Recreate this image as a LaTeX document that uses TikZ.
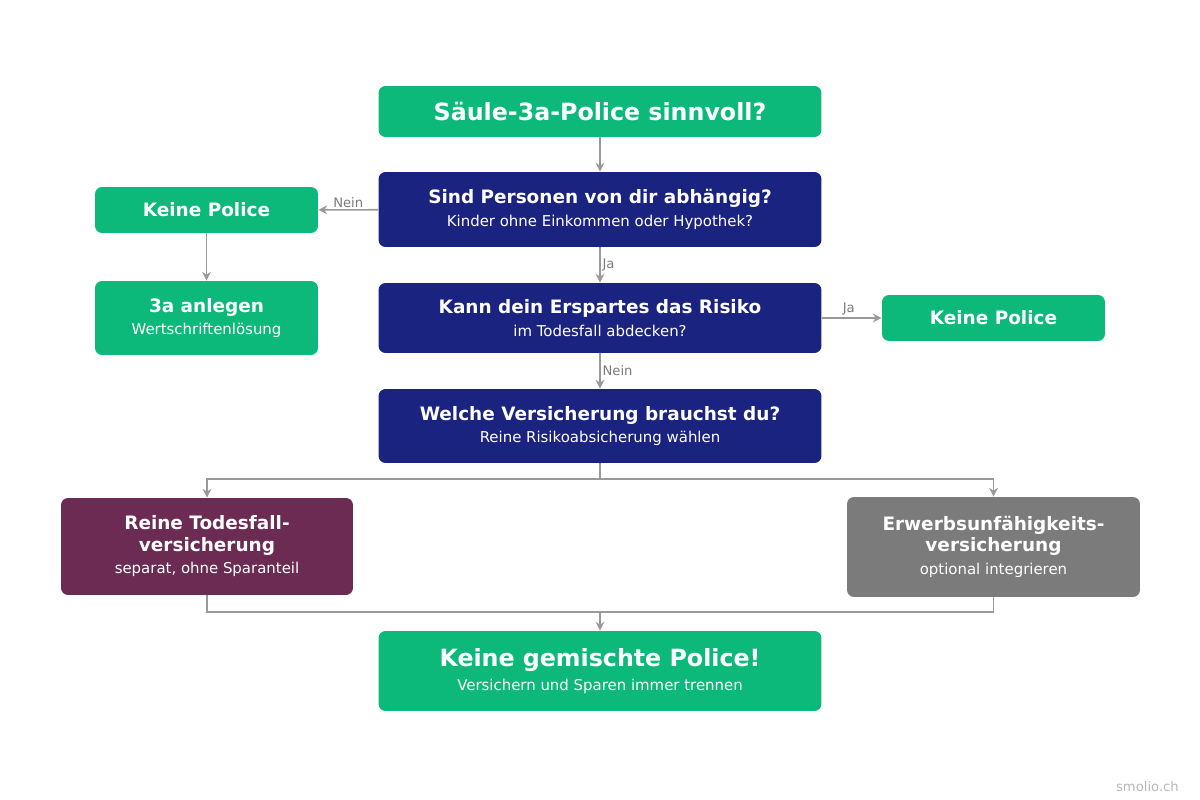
\documentclass[tikz,border=0pt]{standalone}
\usepackage{fontspec}
\setmainfont{DejaVu Sans}
\usetikzlibrary{arrows.meta}
\definecolor{gruen}{HTML}{0DB97A}
\definecolor{navy}{HTML}{1B2380}
\definecolor{lila}{HTML}{6C2B53}
\definecolor{grau}{HTML}{7B7B7B}
\definecolor{linie}{HTML}{999999}
\tikzset{
  box/.style={rounded corners=4pt, text=white, align=center, inner sep=0pt},
  breit/.style={box, minimum width=8.86cm},
  klein/.style={box, minimum width=4.46cm},
  pfeil/.style={draw=linie, line width=0.9pt, -{Stealth[length=5pt,width=5pt]}},
  linie/.style={draw=linie, line width=0.9pt},
  lab/.style={text=grau, font=\fontsize{7.5}{9}\selectfont, inner sep=1pt}
}
\newcommand{\haupt}{\fontsize{10.5}{13}\selectfont\bfseries}
\newcommand{\unter}{\fontsize{8.5}{11}\selectfont}

\begin{document}
\begin{tikzpicture}[x=0.02cm, y=-0.02cm]
\useasboundingbox (0,0) rectangle (1200,800);

% nodes
\node[breit, fill=gruen, minimum height=1.02cm] (titel) at (600,111.5)
  {\fontsize{13.5}{16}\selectfont\bfseries Säule-3a-Police sinnvoll?};
\node[breit, fill=navy, minimum height=1.5cm] (frage1) at (600,209.5)
  {{\haupt Sind Personen von dir abhängig?}\\[1pt]{\unter Kinder ohne Einkommen oder Hypothek?}};
\node[klein, fill=gruen, minimum height=0.92cm] (keinelinks) at (206.5,210)
  {\haupt Keine Police};
\node[klein, fill=gruen, minimum height=1.48cm] (anlegen) at (206.5,318)
  {{\haupt 3a anlegen}\\[1pt]{\unter Wertschriftenlösung}};
\node[breit, fill=navy, minimum height=1.4cm] (frage2) at (600,318)
  {{\haupt Kann dein Erspartes das Risiko}\\[1pt]{\unter im Todesfall abdecken?}};
\node[klein, fill=gruen, minimum height=0.92cm] (keinerechts) at (993.5,318)
  {\haupt Keine Police};
\node[breit, fill=navy, minimum height=1.48cm] (frage3) at (600,426)
  {{\haupt Welche Versicherung brauchst du?}\\[1pt]{\unter Reine Risikoabsicherung wählen}};
\node[box, fill=lila, minimum width=5.84cm, minimum height=1.94cm] (tod) at (207,546.5)
  {{\haupt Reine Todesfall-}\\{\haupt versicherung}\\[1pt]{\unter separat, ohne Sparanteil}};
\node[box, fill=grau, minimum width=5.86cm, minimum height=2cm] (eu) at (993.5,547)
  {{\haupt Erwerbsunfähigkeits-}\\{\haupt versicherung}\\[1pt]{\unter optional integrieren}};
\node[breit, fill=gruen, minimum height=1.6cm] (fazit) at (600,671)
  {{\fontsize{13.5}{16}\selectfont\bfseries Keine gemischte Police!}\\[2pt]{\unter Versichern und Sparen immer trennen}};
\node[text=linie!70, font=\fontsize{7.5}{9}\selectfont, anchor=east] (marke) at (1185,787) {smolio.ch};

% edges
\draw[pfeil] (titel) -- (frage1);
\draw[pfeil] (frage1) -- node[lab, above] {Nein} (keinelinks);
\draw[pfeil] (keinelinks) -- (anlegen);
\draw[pfeil] (frage1) -- node[lab, right] {Ja} (frage2);
\draw[pfeil] (frage2) -- node[lab, above, pos=0.45] {Ja} (keinerechts);
\draw[pfeil] (frage2) -- node[lab, right] {Nein} (frage3);
\coordinate (split) at (600,479);
\draw[linie] (frage3) -- (split);
\draw[pfeil] (split) -| (tod);
\draw[pfeil] (split) -| (eu);
\coordinate (merge) at (600,612);
\draw[linie] (tod) |- (merge);
\draw[linie] (eu) |- (merge);
\draw[pfeil] (merge) -- (fazit);
\end{tikzpicture}
\end{document}
